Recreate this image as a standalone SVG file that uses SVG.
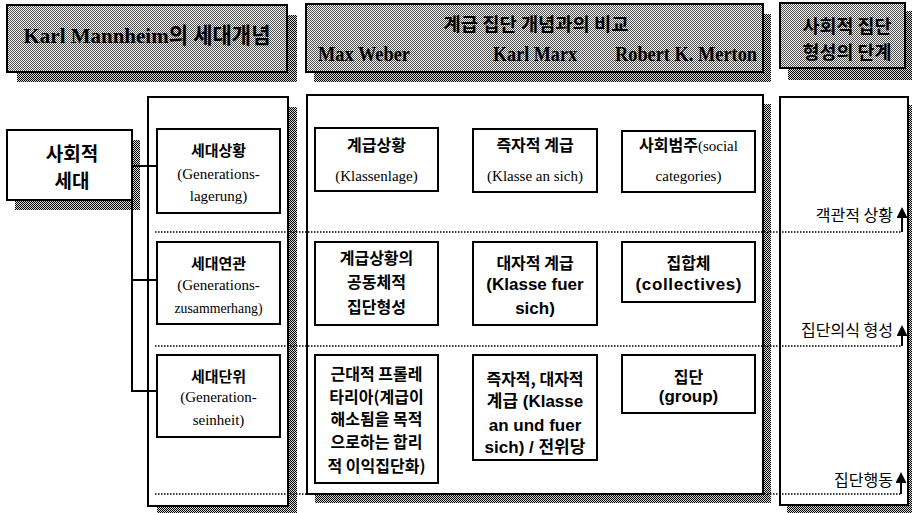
<svg xmlns="http://www.w3.org/2000/svg" width="912" height="513" viewBox="0 0 912 513">
<defs>
<pattern id="phdr" width="2" height="2" patternUnits="userSpaceOnUse"><rect width="2" height="2" fill="#f4f4f4"/><rect width="1" height="1" fill="#505050"/><rect x="1" y="1" width="1" height="1" fill="#505050"/></pattern>
<pattern id="pshd" width="2" height="2" patternUnits="userSpaceOnUse"><rect width="2" height="2" fill="#d8d8d8"/><rect width="1" height="1" fill="#000"/><rect x="1" y="1" width="1" height="1" fill="#000"/></pattern>
<marker id="arr" markerUnits="userSpaceOnUse" markerWidth="11" markerHeight="11" refX="0" refY="5.5" orient="auto"><path d="M0,0 L11,5.5 L0,11 z" fill="#000"/></marker>
</defs>
<style>
.box{fill:#fff;stroke:#000;stroke-width:2}
.shd{fill:url(#pshd);shape-rendering:crispEdges}
.hdr{fill:url(#phdr);stroke:#000;stroke-width:2}
.dot{stroke:#000;stroke-width:1.5;stroke-dasharray:1.5 1.5;fill:none}
.con{stroke:#000;stroke-width:2;fill:none}
.arw{stroke:#000;stroke-width:2;fill:none;marker-end:url(#arr)}
.kb{font-family:"Noto Sans CJK KR",sans-serif;font-weight:bold;text-anchor:middle;fill:#000}
.sr{font-family:"Liberation Serif","Noto Sans CJK KR",serif;text-anchor:middle;fill:#000}
.sb{font-family:"Liberation Sans","Noto Sans CJK KR",sans-serif;font-weight:bold;text-anchor:middle;fill:#000}
.hd{font-family:"Liberation Serif","Noto Sans CJK KR",serif;font-weight:bold;text-anchor:middle;fill:#000}
.lab{font-family:"Noto Sans CJK KR",sans-serif;font-size:16px;text-anchor:end;fill:#000}
</style>

<g id="shadows">
<rect class="shd" x="17" y="15" width="280" height="67"/>
<rect class="shd" x="314" y="14" width="457" height="68"/>
<rect class="shd" x="788" y="11" width="125" height="69"/>
<rect class="shd" x="15" y="140" width="125" height="70"/>
<rect class="shd" x="157" y="107" width="140" height="406"/>
<rect class="shd" x="315" y="104" width="456" height="399"/>
<rect class="shd" x="787" y="105" width="125" height="408"/>
</g>

<g id="header-mannheim">
<rect class="hdr" x="7" y="5" width="280" height="67"/>
<text class="hd" x="147" y="43" font-size="22" textLength="247" lengthAdjust="spacingAndGlyphs">Karl Mannheim의 세대개념</text>
</g>
<g id="header-compare">
<rect class="hdr" x="306" y="4" width="457" height="68"/>
<text class="kb" x="536" y="31" font-size="18" textLength="185" lengthAdjust="spacingAndGlyphs">계급 집단 개념과의 비교</text>
<text class="hd" x="364" y="61" font-size="20" textLength="92" lengthAdjust="spacingAndGlyphs">Max Weber</text>
<text class="hd" x="535" y="61" font-size="20" textLength="84" lengthAdjust="spacingAndGlyphs">Karl Marx</text>
<text class="hd" x="686" y="61" font-size="20" textLength="142" lengthAdjust="spacingAndGlyphs">Robert K. Merton</text>
</g>
<g id="header-stages">
<rect class="hdr" x="780" y="3" width="125" height="65"/>
<text class="kb" x="847" y="33" font-size="18" textLength="89" lengthAdjust="spacingAndGlyphs">사회적 집단</text>
<text class="kb" x="847" y="59" font-size="18" textLength="89" lengthAdjust="spacingAndGlyphs">형성의 단계</text>
</g>

<g id="col-mannheim"><rect class="box" x="148" y="97" width="140" height="409"/></g>
<g id="col-compare"><rect class="box" x="307" y="95" width="456" height="399"/></g>
<g id="col-stages"><rect class="box" x="780" y="97" width="128" height="408"/></g>

<g id="dividers">
<path class="dot" d="M155,232 H902 M155,346 H902 M155,494 H902"/>
</g>

<g id="social-generation">
<rect class="box" x="7" y="130" width="125" height="70"/>
<text class="kb" x="72" y="161" font-size="19">사회적</text>
<text class="kb" x="72" y="188" font-size="19">세대</text>
</g>

<g id="gen-situation">
<rect class="box" x="157" y="129" width="123" height="84"/>
<text class="kb" x="218.5" y="156" font-size="15">세대상황</text>
<text class="sr" x="218.5" y="179" font-size="15">(Generations-</text>
<text class="sr" x="218.5" y="201" font-size="15">lagerung)</text>
</g>
<g id="gen-connection">
<rect class="box" x="157" y="242" width="123" height="82"/>
<text class="kb" x="218.5" y="269" font-size="15">세대연관</text>
<text class="sr" x="218.5" y="290" font-size="15">(Generations-</text>
<text class="sr" x="218.5" y="313" font-size="15" textLength="88" lengthAdjust="spacingAndGlyphs">zusammerhang)</text>
</g>
<g id="gen-unit">
<rect class="box" x="157" y="355" width="123" height="82"/>
<text class="kb" x="218.5" y="382" font-size="15">세대단위</text>
<text class="sr" x="218.5" y="402" font-size="15">(Generation-</text>
<text class="sr" x="218.5" y="425" font-size="15">seinheit)</text>
</g>

<g id="weber-1">
<rect class="box" x="315" y="128" width="123" height="63"/>
<text class="kb" x="376.5" y="151" font-size="16">계급상황</text>
<text class="sr" x="376.5" y="181" font-size="15">(Klassenlage)</text>
</g>
<g id="marx-1">
<rect class="box" x="473" y="129" width="124" height="63"/>
<text class="kb" x="535" y="151" font-size="16">즉자적 계급</text>
<text class="sr" x="535" y="181" font-size="15">(Klasse an sich)</text>
</g>
<g id="merton-1">
<rect class="box" x="622" y="131" width="133" height="61"/>
<text class="sr" x="688.5" y="151" font-size="15"><tspan font-family="Noto Sans CJK KR, sans-serif" font-weight="bold" font-size="16">사회범주</tspan>(social</text>
<text class="sr" x="688.5" y="181" font-size="15">categories)</text>
</g>

<g id="weber-2">
<rect class="box" x="315" y="242" width="123" height="83"/>
<text class="kb" x="376.5" y="264" font-size="16">계급상황의</text>
<text class="kb" x="376.5" y="288" font-size="16">공동체적</text>
<text class="kb" x="376.5" y="313" font-size="16">집단형성</text>
</g>
<g id="marx-2">
<rect class="box" x="473" y="242" width="124" height="83"/>
<text class="kb" x="535" y="269" font-size="16">대자적 계급</text>
<text class="sb" x="535" y="290" font-size="17">(Klasse fuer</text>
<text class="sb" x="535" y="314" font-size="17">sich)</text>
</g>
<g id="merton-2">
<rect class="box" x="622" y="242" width="133" height="60"/>
<text class="kb" x="688.5" y="269" font-size="16">집합체</text>
<text class="sb" x="688.5" y="290" font-size="17" textLength="106">(collectives)</text>
</g>

<g id="weber-3">
<rect class="box" x="315" y="355" width="123" height="128"/>
<text class="kb" x="376.5" y="380" font-size="16">근대적 프롤레</text>
<text class="kb" x="376.5" y="403" font-size="16">타리아(계급이</text>
<text class="kb" x="376.5" y="425" font-size="16">해소됨을 목적</text>
<text class="kb" x="376.5" y="448" font-size="16">으로하는 합리</text>
<text class="kb" x="376.5" y="472" font-size="16">적 이익집단화)</text>
</g>
<g id="marx-3">
<rect class="box" x="473" y="355" width="124" height="105"/>
<text class="kb" x="535" y="385" font-size="16">즉자적, 대자적</text>
<text class="sb" x="535" y="407" font-size="17">계급 (Klasse</text>
<text class="sb" x="535" y="431" font-size="17">an und fuer</text>
<text class="sb" x="535" y="453" font-size="17">sich) / 전위당</text>
</g>
<g id="merton-3">
<rect class="box" x="622" y="355" width="133" height="58"/>
<text class="kb" x="688.5" y="383" font-size="16">집단</text>
<text class="sb" x="688.5" y="402" font-size="17">(group)</text>
</g>

<g id="stage-1">
<text class="lab" x="893" y="221">객관적 상황</text>
</g>
<g id="stage-2">
<text class="lab" x="893" y="336">집단의식 형성</text>
</g>
<g id="stage-3">
<text class="lab" x="893" y="486">집단행동</text>
</g>

<g id="connectors">
<path class="con" d="M132,166 H157 M132,166 V391 H157 M132,280 H157"/>
<path class="arw" d="M902,232 V218"/>
<path class="arw" d="M902,346 V336"/>
<path class="arw" d="M901,494 V483"/>
</g>
</svg>
